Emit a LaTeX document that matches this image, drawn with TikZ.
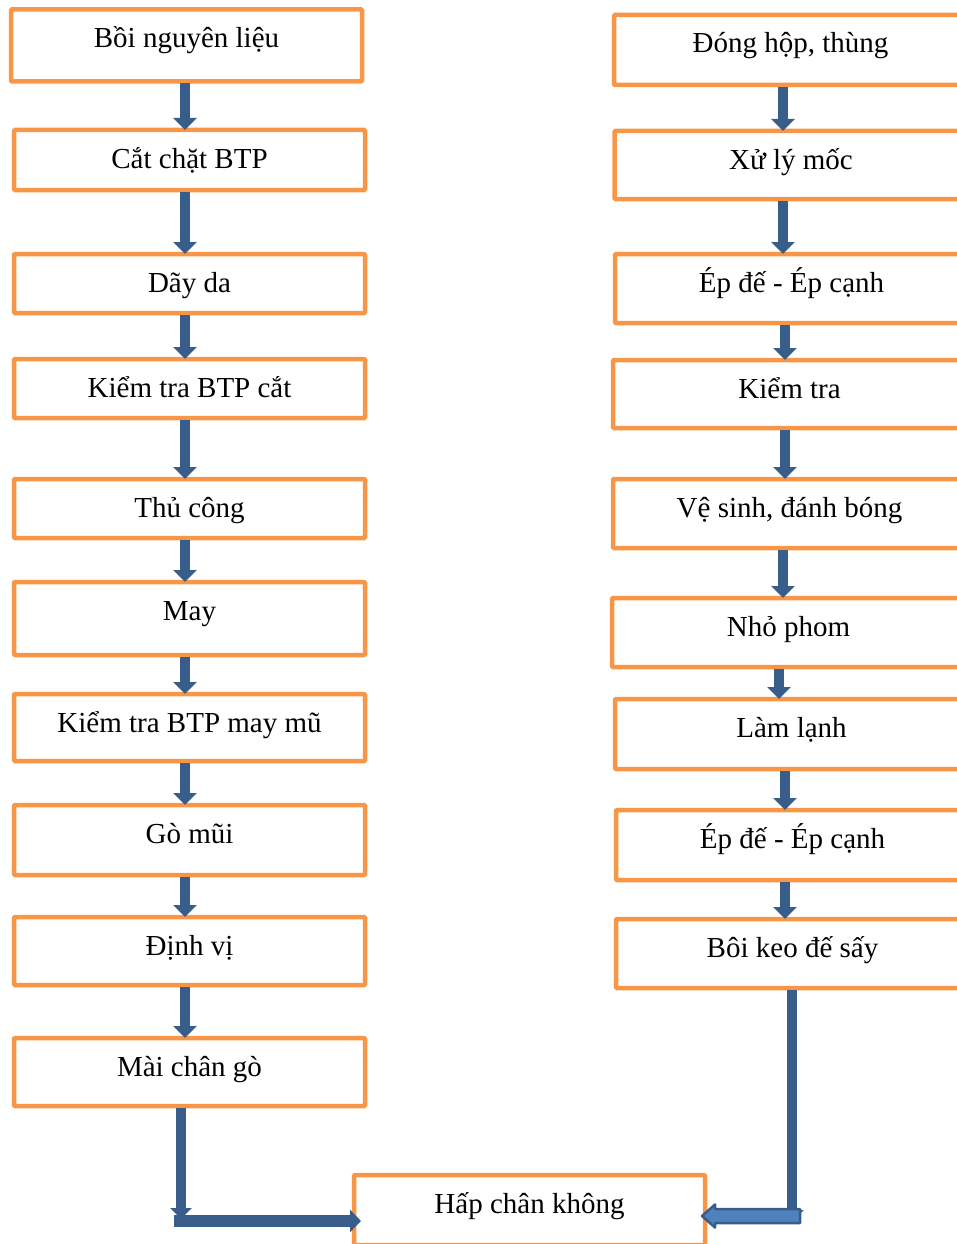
\documentclass[tikz,border=0pt]{standalone}
\usepackage{fontspec}
\setmainfont{Liberation Serif}
\usetikzlibrary{arrows.meta,calc}
\definecolor{boxorange}{HTML}{F79646}
\definecolor{flowblue}{HTML}{385D8A}
\definecolor{flowfill}{HTML}{4F81BD}
\begin{document}
\begin{tikzpicture}[x=1pt,y=-1pt,
  stepbox/.style={draw=boxorange, line width=4.5pt, rounded corners=1pt,
    inner sep=0pt, outer sep=0pt, minimum width=351pt, text height=38pt,
    text depth=#1, anchor=north west, font=\fontsize{29}{34}\selectfont},
  widebox/.style={stepbox=#1, minimum width=353pt},
  flow/.style={draw=flowblue, line width=10pt, shorten <=2pt,
    -{Triangle[width=23pt,length=12pt]}}]
\useasboundingbox (0,0) rectangle (957,1244);
\clip (0,0) rectangle (957,1244);

% left column
\node[stepbox=34pt] (l1) at (11,9.5) {Bồi nguyên liệu};
\node[stepbox=22pt] (l2) at (14,130) {Cắt chặt BTP};
\node[stepbox=21pt] (l3) at (14,254) {Dãy da};
\node[stepbox=21pt] (l4) at (14,359) {Kiểm tra BTP cắt};
\node[stepbox=21pt] (l5) at (14,479) {Thủ công};
\node[stepbox=35pt] (l6) at (14,582) {May};
\node[stepbox=29pt] (l7) at (14,694) {Kiểm tra BTP may mũ};
\node[stepbox=32pt] (l8) at (14,805) {Gò mũi};
\node[stepbox=30pt] (l9) at (14,917) {Định vị};
\node[stepbox=30pt] (l10) at (14,1038) {Mài chân gò};

% right column
\node[widebox=32pt] (r1) at (614,15) {Đóng hộp, thùng};
\node[widebox=30pt] (r2) at (614.5,131) {Xử lý mốc};
\node[widebox=31pt] (r3) at (615,254) {Ép đế - Ép cạnh};
\node[widebox=30pt] (r4) at (613,360) {Kiểm tra};
\node[widebox=31pt] (r5) at (613,479) {Vệ sinh, đánh bóng};
\node[widebox=31pt] (r6) at (612,598) {Nhỏ phom};
\node[widebox=32pt] (r7) at (615,699) {Làm lạnh};
\node[widebox=32pt] (r8) at (616,810) {Ép đế - Ép cạnh};
\node[widebox=31pt] (r9) at (616,919) {Bôi keo đế sấy};

% final step
\node[stepbox=32pt] (hap) at (354,1175) {Hấp chân không};

% left column arrows
\draw[flow] (l1.south -| 185,0) -- (l2.north -| 185,0);
\draw[flow] (l2.south -| 185,0) -- (l3.north -| 185,0);
\draw[flow] (l3.south -| 185,0) -- (l4.north -| 185,0);
\draw[flow] (l4.south -| 185,0) -- (l5.north -| 185,0);
\draw[flow] (l5.south -| 185,0) -- (l6.north -| 185,0);
\draw[flow] (l6.south -| 185,0) -- (l7.north -| 185,0);
\draw[flow] (l7.south -| 185,0) -- (l8.north -| 185,0);
\draw[flow] (l8.south -| 185,0) -- (l9.north -| 185,0);
\draw[flow] (l9.south -| 185,0) -- (l10.north -| 185,0);

% right column arrows
\draw[flow] (r1.south -| 783,0) -- (r2.north -| 783,0);
\draw[flow] (r2.south -| 783,0) -- (r3.north -| 783,0);
\draw[flow] (r3.south -| 785,0) -- (r4.north -| 785,0);
\draw[flow] (r4.south -| 785,0) -- (r5.north -| 785,0);
\draw[flow] (r5.south -| 783,0) -- (r6.north -| 783,0);
\draw[flow] (r6.south -| 779,0) -- (r7.north -| 779,0);
\draw[flow] (r7.south -| 785,0) -- (r8.north -| 785,0);
\draw[flow] (r8.south -| 785,0) -- (r9.north -| 785,0);

% left branch into the final step
\coordinate (lbend) at (181,1219);
\coordinate (lstart) at (174,1221);
\draw[flow, -{Triangle[width=21pt,length=11pt]}] (l10.south -| lbend) -- (lbend);
\draw[draw=flowblue, line width=12pt, -{Triangle[width=22pt,length=11pt]}]
  (lstart) -- ($(hap.west |- lstart)+(7,0)$);

% right branch into the final step
\coordinate (rbend) at (792,1222);
\coordinate (rtip) at ($(hap.east |- 0,1216)+(-3,0)$);
\draw[flow] (r9.south -| rbend) -- (rbend);
\draw[draw=flowblue, fill=flowfill, line width=2.5pt, line join=round]
  (rtip) -- ++(13,-11.5) -- ++(0,4.5) -- ++(85,0) -- ++(0,14)
  -- ++(-85,0) -- ++(0,4.5) -- cycle;
\end{tikzpicture}
\end{document}
